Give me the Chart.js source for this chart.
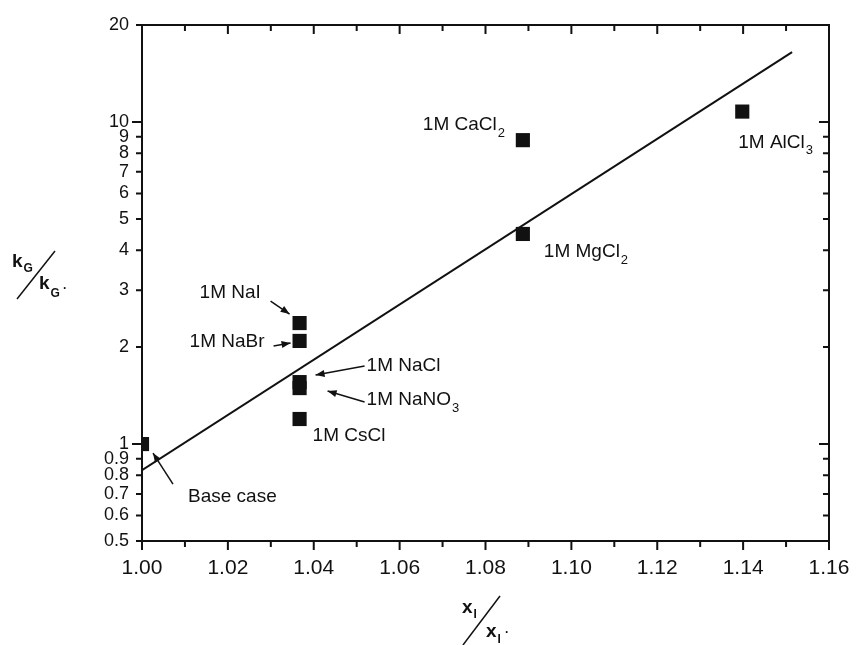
<!DOCTYPE html>
<html lang="en">
<head>
    <meta charset="UTF-8">
    <title>kG / kG* vs xI / xI*</title>
    <script src="https://cdn.jsdelivr.net/npm/chart.js"></script>
    <style>
        body { margin: 0; background: #fff; }
        canvas { display: block; }
    </style>
</head>
<body>
    <canvas id="saltChart" width="856" height="645"></canvas>
    <script>
        // salts and measured points
        const salts = ['Base case', '1M NaI', '1M NaBr', '1M NaCl', '1M NaNO3', '1M CsCl', '1M CaCl2', '1M MgCl2', '1M AlCl3'];
        const xRatio = [1.000, 1.0367, 1.0367, 1.0367, 1.0367, 1.0367, 1.0887, 1.0887, 1.1398];
        const kRatio = [1.00, 2.375, 2.09, 1.557, 1.492, 1.196, 8.78, 4.49, 10.77];

        // fitted line, two ends
        const fitX = [1.000, 1.1514];
        const fitY = [0.830, 16.48];

        // axis ticks
        const xMajor = [1.00, 1.02, 1.04, 1.06, 1.08, 1.10, 1.12, 1.14, 1.16];
        const xMinor = [1.01, 1.03, 1.05, 1.07, 1.09, 1.11, 1.13, 1.15];
        const yTicks = [0.5, 0.6, 0.7, 0.8, 0.9, 1, 2, 3, 4, 5, 6, 7, 8, 9, 10, 20];
        const yMajor = [1, 10];

        // labels next to the points (offsets in px from the point)
        const notes = [
            { i: 0, text: 'Base case', sub: '', dx: 46, dy: 53, arrow: [31, 40, 11, 9] },
            { i: 1, text: '1M NaI', sub: '', dx: -100, dy: -30, arrow: [-29, -22, -10, -9] },
            { i: 2, text: '1M NaBr', sub: '', dx: -110, dy: 1, arrow: [-26, 5, -9, 2] },
            { i: 3, text: '1M NaCl', sub: '', dx: 67, dy: -16, arrow: [65, -16, 16, -7] },
            { i: 4, text: '1M NaNO', sub: '3', dx: 67, dy: 12, arrow: [65, 14, 28, 3] },
            { i: 5, text: '1M CsCl', sub: '', dx: 13, dy: 17, arrow: null },
            { i: 6, text: '1M CaCl', sub: '2', dx: -100, dy: -15, arrow: null },
            { i: 7, text: '1M MgCl', sub: '2', dx: 21, dy: 18, arrow: null },
            { i: 8, text: '1M AlCl', sub: '3', dx: -4, dy: 31, arrow: null }
        ];

        const FONT = '"Liberation Sans", Arial, sans-serif';
        const INK = '#111';

        function arrowTo(ctx, x1, y1, x2, y2) {
            ctx.beginPath();
            ctx.moveTo(x1, y1);
            ctx.lineTo(x2, y2);
            ctx.stroke();
            const a = Math.atan2(y2 - y1, x2 - x1);
            const len = 9, w = 3.5;
            ctx.beginPath();
            ctx.moveTo(x2, y2);
            ctx.lineTo(x2 - len * Math.cos(a) + w * Math.sin(a), y2 - len * Math.sin(a) - w * Math.cos(a));
            ctx.lineTo(x2 - len * Math.cos(a) - w * Math.sin(a), y2 - len * Math.sin(a) + w * Math.cos(a));
            ctx.closePath();
            ctx.fill();
        }

        function subText(ctx, x, y, main, sub, size, subSize, drop, weight) {
            ctx.font = weight + ' ' + size + 'px ' + FONT;
            ctx.fillText(main, x, y);
            if (sub) {
                const w = ctx.measureText(main).width;
                ctx.font = weight + ' ' + subSize + 'px ' + FONT;
                ctx.fillText(sub, x + w + 1, y + drop);
            }
        }

        const framePlugin = {
            id: 'frame',
            afterDraw(chart) {
                const ctx = chart.ctx;
                const xs = chart.scales.x, ys = chart.scales.y;
                const a = chart.chartArea;
                ctx.save();
                ctx.strokeStyle = INK;
                ctx.fillStyle = INK;
                ctx.lineWidth = 2;
                ctx.strokeRect(a.left, a.top, a.right - a.left, a.bottom - a.top);

                // x ticks: outward at bottom, inward at top
                ctx.beginPath();
                xMajor.concat(xMinor).forEach(v => {
                    const px = xs.getPixelForValue(v);
                    const len = xMajor.includes(v) ? 9 : 6;
                    ctx.moveTo(px, a.bottom); ctx.lineTo(px, a.bottom + len);
                    ctx.moveTo(px, a.top); ctx.lineTo(px, a.top + len);
                });
                // y ticks: outward at left, inward at right
                yTicks.forEach(v => {
                    const py = ys.getPixelForValue(v);
                    const len = yMajor.includes(v) ? 10 : 6;
                    ctx.moveTo(a.left, py); ctx.lineTo(a.left - len, py);
                    ctx.moveTo(a.right, py); ctx.lineTo(a.right - len, py);
                });
                ctx.stroke();

                // point labels and arrows
                ctx.lineWidth = 1.5;
                ctx.textBaseline = 'middle';
                ctx.textAlign = 'left';
                notes.forEach(n => {
                    const px = xs.getPixelForValue(xRatio[n.i]);
                    const py = ys.getPixelForValue(kRatio[n.i]);
                    subText(ctx, px + n.dx, py + n.dy, n.text, n.sub, 19, 13, 8, 'normal');
                    if (n.arrow) {
                        arrowTo(ctx, px + n.arrow[0], py + n.arrow[1], px + n.arrow[2], py + n.arrow[3]);
                    }
                });

                // axis titles written as slanted fractions
                ctx.textBaseline = 'alphabetic';
                ctx.lineWidth = 1.5;
                subText(ctx, 12, 267, 'k', 'G', 19, 12, 5, 'bold');
                subText(ctx, 39, 289, 'k', 'G', 19, 12, 8, 'bold');
                ctx.font = 'bold 12px ' + FONT;
                ctx.fillText('·', 63, 292);
                ctx.beginPath();
                ctx.moveTo(17, 299); ctx.lineTo(55, 251);
                ctx.stroke();

                subText(ctx, 462, 613, 'x', 'I', 19, 12, 5, 'bold');
                subText(ctx, 486, 637, 'x', 'I', 19, 12, 6, 'bold');
                ctx.font = 'bold 12px ' + FONT;
                ctx.fillText('·', 505, 636);
                ctx.beginPath();
                ctx.moveTo(463, 645); ctx.lineTo(500, 596);
                ctx.stroke();
                ctx.restore();
            }
        };

        new Chart(document.getElementById('saltChart'), {
            type: 'scatter',
            data: {
                datasets: [
                    {
                        label: 'salts',
                        data: xRatio.map((x, i) => ({ x: x, y: kRatio[i] })),
                        pointStyle: 'rect',
                        pointRadius: 10,
                        pointBorderWidth: 0,
                        backgroundColor: INK,
                        borderColor: INK,
                        clip: 0
                    },
                    {
                        label: 'fit',
                        data: fitX.map((x, i) => ({ x: x, y: fitY[i] })),
                        showLine: true,
                        pointRadius: 0,
                        borderColor: INK,
                        borderWidth: 2,
                        clip: 0
                    }
                ]
            },
            options: {
                responsive: false,
                animation: false,
                layout: { padding: { top: 25, right: 27, left: 0, bottom: 0 } },
                plugins: {
                    legend: { display: false },
                    tooltip: { enabled: false }
                },
                scales: {
                    x: {
                        type: 'linear',
                        min: 1.0,
                        max: 1.16,
                        afterBuildTicks: s => { s.ticks = xMajor.map(v => ({ value: v })); },
                        afterFit: s => { s.height = 104; },
                        grid: { display: false, drawTicks: true, tickLength: 9 },
                        border: { display: false },
                        ticks: {
                            autoSkip: false,
                            maxRotation: 0,
                            padding: 6,
                            color: INK,
                            font: { family: FONT, size: 21 },
                            callback: v => v.toFixed(2)
                        }
                    },
                    y: {
                        type: 'logarithmic',
                        min: 0.5,
                        max: 20,
                        afterBuildTicks: s => { s.ticks = yTicks.map(v => ({ value: v })); },
                        afterFit: s => { s.width = 142; },
                        grid: { display: false, drawTicks: true, tickLength: 9 },
                        border: { display: false },
                        ticks: {
                            autoSkip: false,
                            padding: 4,
                            color: INK,
                            font: { family: FONT, size: 18 },
                            callback: v => String(v)
                        }
                    }
                }
            },
            plugins: [framePlugin]
        });
    </script>
</body>
</html>
